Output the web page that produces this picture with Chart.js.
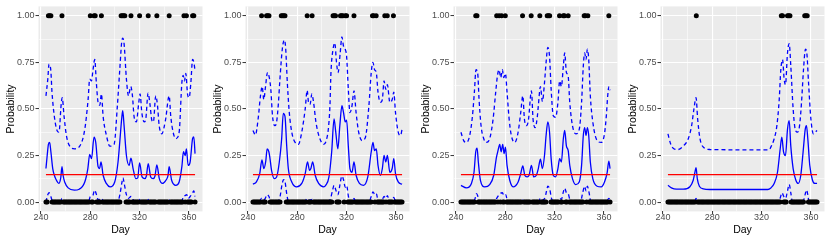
<!DOCTYPE html>
<html>
<head>
<meta charset="utf-8">
<script src="https://cdn.jsdelivr.net/npm/chart.js@4.4.1/dist/chart.umd.min.js"></script>
<style>
  html, body { margin: 0; padding: 0; background: #ffffff; }
  #wrap { position: relative; width: 830px; height: 242px; }
  #wrap canvas { position: absolute; top: 0; }
</style>
</head>
<body>
<div id="wrap">
  <canvas id="p1" width="208" height="242" style="left:0px"></canvas>
  <canvas id="p2" width="208" height="242" style="left:207px"></canvas>
  <canvas id="p3" width="208" height="242" style="left:415px"></canvas>
  <canvas id="p4" width="208" height="242" style="left:622px"></canvas>
</div>
<script>
// observed days (Sep 1 .. Dec 31)
const firstDay = 244;
const lastDay = 365;
const meanRate = 0.147;

const xTickDays = [240, 280, 320, 360];
const xMinorDays = [260, 300, 340];
const yTickValues = [0, 0.25, 0.5, 0.75, 1];
const yTickLabels = ["0.00", "0.25", "0.50", "0.75", "1.00"];
const yMinorValues = [0.125, 0.375, 0.625, 0.875];

// panel 1
const events1 = [246, 247, 248, 257, 280, 283, 284, 289, 305, 306, 307, 308, 313, 320, 327, 334, 344, 356, 358, 363, 364];
const fit1 = [[244,0.18],[245,0.25],[246,0.31],[247,0.32],[248,0.27],[249.5,0.18],[251,0.14],[252.5,0.117],[254.4,0.10],[256,0.13],[257,0.19],[258,0.14],[259.2,0.108],[262,0.076],[267,0.064],[271,0.069],[275.5,0.108],[278,0.18],[279.5,0.256],[281,0.233],[283,0.348],[284.4,0.32],[286.3,0.19],[287.5,0.18],[288.7,0.215],[290.4,0.144],[293,0.10],[296,0.082],[299.8,0.108],[302.5,0.215],[304,0.33],[305.5,0.45],[306.3,0.49],[307.4,0.41],[309.3,0.25],[311.5,0.197],[313,0.236],[314.7,0.18],[316.9,0.126],[318.5,0.13],[320,0.21],[322,0.135],[324.2,0.126],[325.5,0.14],[327,0.206],[329,0.135],[331,0.126],[332.5,0.14],[334,0.20],[336,0.126],[338.6,0.10],[341.3,0.117],[343,0.14],[344,0.19],[346,0.117],[349.4,0.09],[352.1,0.108],[354.3,0.19],[355.6,0.27],[357,0.25],[358,0.286],[359.4,0.197],[361,0.215],[363,0.34],[364,0.35],[365,0.26]];
const upper1 = [[244,0.57],[245.5,0.66],[246.5,0.74],[247.9,0.71],[248.9,0.59],[251,0.45],[253.3,0.38],[254.6,0.375],[256.3,0.52],[257.2,0.56],[258.7,0.46],[260.6,0.357],[263.3,0.30],[267.3,0.286],[271.4,0.30],[275.5,0.39],[278.2,0.55],[279.5,0.66],[280.9,0.65],[282.2,0.71],[283.6,0.765],[284.9,0.64],[286.3,0.535],[287.7,0.52],[289,0.58],[290.4,0.46],[293.1,0.357],[295.8,0.30],[299.3,0.31],[302,0.52],[303.9,0.71],[305.5,0.86],[306.3,0.88],[307.4,0.85],[309.3,0.66],[311,0.57],[312.8,0.62],[314.2,0.57],[315.5,0.46],[317.4,0.43],[319.1,0.52],[320.4,0.58],[321.8,0.48],[323.7,0.43],[325,0.445],[326.9,0.585],[328.5,0.52],[329.9,0.44],[331.2,0.43],[333.1,0.57],[334.5,0.52],[335.9,0.41],[338,0.366],[341,0.44],[344,0.57],[345.3,0.46],[347.2,0.375],[349.4,0.34],[352.1,0.375],[354.3,0.64],[355.4,0.68],[356.4,0.65],[357.5,0.69],[358.9,0.58],[360.2,0.56],[361.6,0.64],[363,0.765],[364.3,0.74],[365,0.70]];
const lower1 = [[244,0],[245,0.03],[246.5,0.05],[248,0.03],[249.5,0],[256,0],[257,0.02],[258,0],[278.5,0],[280,0.03],[282,0.035],[283.5,0.064],[285,0.04],[286.5,0.01],[288,0.02],[289.5,0.015],[291,0],[302,0],[304,0.04],[305.5,0.10],[306.5,0.13],[307.5,0.10],[309.3,0.04],[311,0.02],[313,0.03],[315,0.01],[316,0],[319,0],[320,0.015],[321,0],[326,0],[327,0.015],[328,0],[333,0],[334,0.012],[335,0],[343,0],[344,0.012],[345,0],[354,0],[355.5,0.03],[357,0.035],[358.3,0.04],[359.5,0.02],[361,0.03],[363,0.05],[364,0.06],[365,0.03]];

// panel 2
const events2 = [251, 255, 256, 257, 267, 268, 269, 270, 288, 292, 309, 310, 311, 315, 316, 317, 319, 320, 326, 341, 342, 344, 351, 353, 358];
const fit2 = [[244,0.096],[246.8,0.108],[249.5,0.153],[251.3,0.227],[252.8,0.18],[254.4,0.22],[255.5,0.286],[256.9,0.27],[257.7,0.24],[259.1,0.17],[261.3,0.126],[263.2,0.135],[265.4,0.215],[267.3,0.34],[268.6,0.476],[270,0.46],[271.4,0.30],[272.7,0.18],[275.5,0.108],[279.5,0.082],[283.6,0.10],[286.4,0.153],[288.3,0.215],[289.9,0.17],[291,0.18],[292.5,0.215],[294.5,0.144],[297.3,0.10],[301.4,0.082],[303,0.09],[305.7,0.135],[307.9,0.27],[309.8,0.446],[311.2,0.375],[312.9,0.286],[314.5,0.41],[316.2,0.517],[317.5,0.48],[318.9,0.43],[320,0.44],[321.4,0.30],[322.7,0.18],[324.4,0.16],[326,0.215],[327.7,0.144],[330.4,0.10],[333.7,0.09],[337.2,0.135],[340,0.27],[341.4,0.32],[342.7,0.276],[344.1,0.286],[345.5,0.197],[347.4,0.144],[349,0.18],[350.4,0.25],[351.8,0.215],[353.1,0.25],[355.1,0.16],[357,0.18],[358.3,0.233],[359.7,0.153],[361.9,0.108],[365,0.096]];
const upper2 = [[244,0.384],[246,0.36],[248.2,0.446],[250.1,0.57],[251.5,0.62],[252.8,0.55],[254.2,0.62],[255.8,0.695],[257.2,0.67],[258.5,0.605],[259.9,0.46],[261.8,0.41],[263.2,0.43],[264.5,0.517],[265.9,0.66],[267.8,0.82],[269.5,0.87],[270.5,0.83],[271.9,0.64],[273.5,0.48],[275.5,0.375],[278.2,0.32],[280.9,0.31],[283.6,0.375],[286.4,0.5],[288,0.6],[289.1,0.535],[290.4,0.525],[291.8,0.58],[293.2,0.535],[295.1,0.43],[297.8,0.35],[301.4,0.31],[303.5,0.33],[305.3,0.40],[306.5,0.52],[307.3,0.695],[309,0.82],[310.4,0.854],[311.8,0.75],[313.1,0.695],[314.8,0.80],[316.2,0.886],[317.5,0.836],[318.9,0.82],[320,0.783],[321.4,0.605],[322.7,0.48],[324.4,0.517],[326,0.597],[327.7,0.48],[329.8,0.375],[332.6,0.33],[335.3,0.348],[338.1,0.517],[340,0.695],[341.4,0.75],[342.7,0.71],[344.1,0.695],[345.5,0.59],[347.4,0.535],[349,0.55],[350.4,0.65],[351.8,0.605],[353.1,0.63],[355.1,0.535],[357,0.55],[358.3,0.59],[359.7,0.48],[361.9,0.375],[363.8,0.357],[365,0.39]];
const lower2 = [[244,0],[249,0],[251,0.02],[252.5,0.01],[254,0.02],[255.5,0.04],[257,0.03],[258.5,0],[264,0],[266,0.03],[267.5,0.09],[268.8,0.12],[270,0.11],[271.5,0.04],[273,0],[286,0],[288,0.02],[290,0.01],[292,0.015],[294,0],[305,0],[307,0.02],[308.5,0.06],[309.8,0.09],[311.5,0.06],[313,0.04],[314.5,0.09],[316.2,0.14],[317.5,0.12],[318.9,0.08],[320,0.09],[321.5,0.03],[323,0],[325,0],[326,0.02],[327.5,0],[338,0],[340,0.03],[341.4,0.055],[343,0.04],[344.1,0.045],[345.5,0.01],[348,0],[350.4,0.03],[352,0.02],[353.1,0.035],[355,0],[357,0.01],[358.3,0.025],[360,0],[365,0]];

// panel 3
const events3 = [256, 257, 273, 275, 277, 280, 294, 301, 308, 314, 315, 316, 324, 327, 328, 331, 344, 345, 347, 364];
const fit3 = [[244,0.09],[248.4,0.076],[252.5,0.10],[254.6,0.16],[256,0.27],[257.1,0.29],[258.1,0.215],[259.8,0.117],[263.3,0.082],[267.3,0.094],[270.6,0.144],[272.8,0.24],[274.1,0.277],[275.5,0.31],[276.6,0.27],[277.9,0.31],[279,0.26],[280.1,0.295],[281.4,0.197],[283.6,0.117],[286.3,0.082],[290.4,0.108],[292.5,0.153],[294.2,0.194],[295.8,0.144],[297.7,0.135],[299.3,0.144],[301.2,0.197],[303,0.135],[305.2,0.144],[306.8,0.18],[308.5,0.23],[310.1,0.18],[311.8,0.25],[313.1,0.357],[314.5,0.43],[315.9,0.375],[317.2,0.233],[318.9,0.144],[320.8,0.135],[322.7,0.18],[324.1,0.233],[325.5,0.215],[327.1,0.34],[328.2,0.384],[329.6,0.30],[331,0.277],[332.3,0.197],[334.5,0.126],[337.2,0.094],[340,0.108],[341.9,0.197],[343.3,0.357],[344.4,0.40],[345.5,0.357],[346.6,0.40],[347.7,0.357],[349,0.215],[351,0.126],[354.5,0.085],[357.8,0.082],[360.5,0.108],[362.7,0.16],[364,0.22],[365,0.18]];
const upper3 = [[244,0.375],[246.2,0.33],[248.4,0.32],[251.1,0.357],[253.3,0.46],[254.9,0.59],[256.2,0.71],[257.6,0.69],[258.7,0.55],[260.3,0.41],[262.5,0.34],[264.6,0.32],[267.3,0.34],[270.1,0.446],[272.2,0.59],[273.6,0.677],[274.9,0.71],[276.3,0.668],[277.6,0.71],[278.7,0.668],[280.1,0.69],[281.4,0.59],[283.1,0.446],[284.9,0.357],[287.7,0.32],[290.4,0.375],[292.5,0.48],[294.2,0.57],[295.5,0.446],[297.1,0.41],[298.7,0.437],[301.2,0.597],[302.5,0.446],[304.3,0.40],[306,0.46],[306.8,0.517],[308.5,0.62],[310.1,0.54],[311.8,0.64],[313.1,0.75],[314.5,0.83],[315.9,0.78],[317.2,0.605],[318.9,0.464],[320.8,0.455],[322.7,0.535],[324.1,0.65],[325.5,0.62],[327.1,0.73],[328.2,0.80],[329.6,0.695],[331,0.677],[332.3,0.535],[334.5,0.41],[337.2,0.366],[340,0.39],[341.9,0.535],[343.3,0.73],[344.4,0.80],[345.5,0.765],[346.6,0.82],[347.7,0.765],[349,0.57],[351,0.43],[354.5,0.33],[357.8,0.32],[360.5,0.366],[362,0.464],[363.1,0.57],[364.1,0.62],[365,0.6]];
const lower3 = [[244,0],[254,0],[255.5,0.02],[256.5,0.045],[257.5,0.035],[259,0],[271,0],[273,0.02],[275.5,0.045],[277.6,0.05],[279,0.035],[280.3,0.04],[282,0],[293,0],[294.2,0.01],[295.5,0],[300,0],[301.2,0.01],[302.5,0],[307,0],[308.5,0.02],[310,0.01],[312,0.02],[313.5,0.06],[314.5,0.085],[316,0.07],[317.5,0.02],[319,0],[322,0],[324,0.02],[325.5,0.015],[327.1,0.055],[328.2,0.075],[329.6,0.05],[331,0.045],[332.5,0.01],[334,0],[341,0],[342.5,0.04],[344.4,0.085],[345.5,0.06],[346.6,0.085],[348,0.05],[349.5,0],[362,0],[364,0.02],[365,0.01]];

// panel 4
const events4 = [267, 336, 337, 341, 342, 343, 355, 356, 357];
const fit4 = [[244,0.09],[246.8,0.076],[250.9,0.069],[256.4,0.069],[261.8,0.082],[264.5,0.117],[265.9,0.16],[266.8,0.185],[267.8,0.126],[269.5,0.085],[272.7,0.071],[278,0.0675],[325,0.0675],[327.5,0.076],[330.2,0.10],[332.9,0.16],[335.1,0.286],[336.4,0.348],[337.8,0.27],[339.4,0.25],[341,0.39],[342.4,0.437],[343.7,0.30],[345.6,0.18],[347.8,0.117],[349.7,0.10],[351.8,0.144],[353.7,0.27],[355.4,0.39],[356.4,0.41],[357.5,0.34],[359.1,0.197],[361.3,0.117],[363.2,0.10],[365,0.10]];
const upper4 = [[244,0.366],[246.3,0.31],[248.7,0.286],[252.3,0.282],[256.4,0.30],[260.5,0.34],[263.2,0.41],[265.1,0.5],[266.8,0.56],[268.1,0.446],[270,0.34],[272.7,0.295],[278.2,0.282],[326,0.28],[327.5,0.295],[330.2,0.34],[332.4,0.41],[334.3,0.55],[335.6,0.71],[337,0.765],[338.3,0.66],[339.4,0.63],[341,0.80],[342.4,0.85],[343.7,0.73],[345.6,0.5],[347.3,0.39],[349.1,0.375],[350.8,0.41],[352.4,0.535],[354,0.71],[355.6,0.82],[356.7,0.80],[358.1,0.64],[360,0.446],[362.1,0.366],[363.5,0.375],[365,0.384]];
const lower4 = [[244,0],[265.5,0],[266.8,0.02],[268,0],[333,0],[335,0.02],[336.5,0.05],[338,0.03],[339.5,0.02],[341,0.06],[342.4,0.095],[343.7,0.05],[345,0],[353.5,0],[355.3,0.04],[356.4,0.065],[357.5,0.04],[358.5,0],[365,0]];

Chart.defaults.font.family = "'Liberation Sans', Arial, sans-serif";

const panelBackground = {
  id: "panelBackground",
  beforeDraw(chart) {
    const { ctx, chartArea: a } = chart;
    ctx.save();
    ctx.fillStyle = "#EBEBEB";
    ctx.fillRect(a.left, a.top, a.right - a.left, a.bottom - a.top);
    ctx.restore();
  }
};

const toXY = arr => arr.map(([x, y]) => ({ x, y }));

function drawPanel(id, events, fit, upper, lower) {
  const points = [];
  for (let d = firstDay; d <= lastDay; d++) {
    points.push({ x: d, y: events.includes(d) ? 1 : 0 });
  }
  const band = { showLine: true, borderColor: "#0000FF", borderWidth: 1.3, borderDash: [4, 3], pointRadius: 0, cubicInterpolationMode: "monotone" };

  new Chart(document.getElementById(id), {
    type: "scatter",
    data: {
      datasets: [
        { data: points, pointRadius: 2.5, pointBackgroundColor: "#000000", pointBorderWidth: 0, showLine: false },
        { data: [{ x: firstDay, y: meanRate }, { x: lastDay, y: meanRate }], showLine: true, borderColor: "#FF0000", borderWidth: 1.2, pointRadius: 0 },
        { data: toXY(fit), showLine: true, borderColor: "#0000FF", borderWidth: 1.3, pointRadius: 0, cubicInterpolationMode: "monotone" },
        Object.assign({ data: toXY(upper) }, band),
        Object.assign({ data: toXY(lower) }, band)
      ]
    },
    options: {
      responsive: false,
      animation: false,
      devicePixelRatio: 1,
      events: [],
      layout: { padding: { top: 5, right: 5.5, left: 0, bottom: 0 } },
      plugins: { legend: { display: false }, tooltip: { enabled: false } },
      scales: {
        x: {
          type: "linear",
          min: 237.95,
          max: 371.05,
          afterBuildTicks: s => { s.ticks = xTickDays.concat(xMinorDays).sort((a, b) => a - b).map(v => ({ value: v })); },
          afterFit: s => { s.height = 30.6; },
          ticks: { autoSkip: false, maxRotation: 0, padding: -2, color: "#4D4D4D", font: { size: 9 },
                   callback: v => xTickDays.includes(v) ? String(v) : "" },
          grid: { color: "#FFFFFF", lineWidth: c => xTickDays.includes(c.tick.value) ? 1.1 : 0.55,
                  tickLength: 3, tickWidth: 1, tickColor: c => xTickDays.includes(c.tick.value) ? "#333333" : "rgba(0,0,0,0)" },
          border: { display: false },
          title: { display: true, text: "Day", color: "#000000", font: { size: 10.5 }, padding: { top: 0, bottom: 5.5 } }
        },
        y: {
          type: "linear",
          min: -0.05,
          max: 1.05,
          afterBuildTicks: s => { s.ticks = yTickValues.concat(yMinorValues).sort((a, b) => a - b).map(v => ({ value: v })); },
          afterFit: s => { s.width = 38.5; },
          ticks: { autoSkip: false, padding: 1, color: "#4D4D4D", font: { size: 9 },
                   callback: v => { const i = yTickValues.indexOf(v); return i >= 0 ? yTickLabels[i] : ""; } },
          grid: { color: "#FFFFFF", lineWidth: c => yTickValues.includes(c.tick.value) ? 1.1 : 0.55,
                  tickLength: 3, tickWidth: 1, tickColor: c => yTickValues.includes(c.tick.value) ? "#333333" : "rgba(0,0,0,0)" },
          border: { display: false },
          title: { display: true, text: "Probability", color: "#000000", font: { size: 10.5 }, padding: { top: 4.4, bottom: 0 } }
        }
      }
    },
    plugins: [panelBackground]
  });
}

drawPanel("p1", events1, fit1, upper1, lower1);
drawPanel("p2", events2, fit2, upper2, lower2);
drawPanel("p3", events3, fit3, upper3, lower3);
drawPanel("p4", events4, fit4, upper4, lower4);
</script>
</body>
</html>
